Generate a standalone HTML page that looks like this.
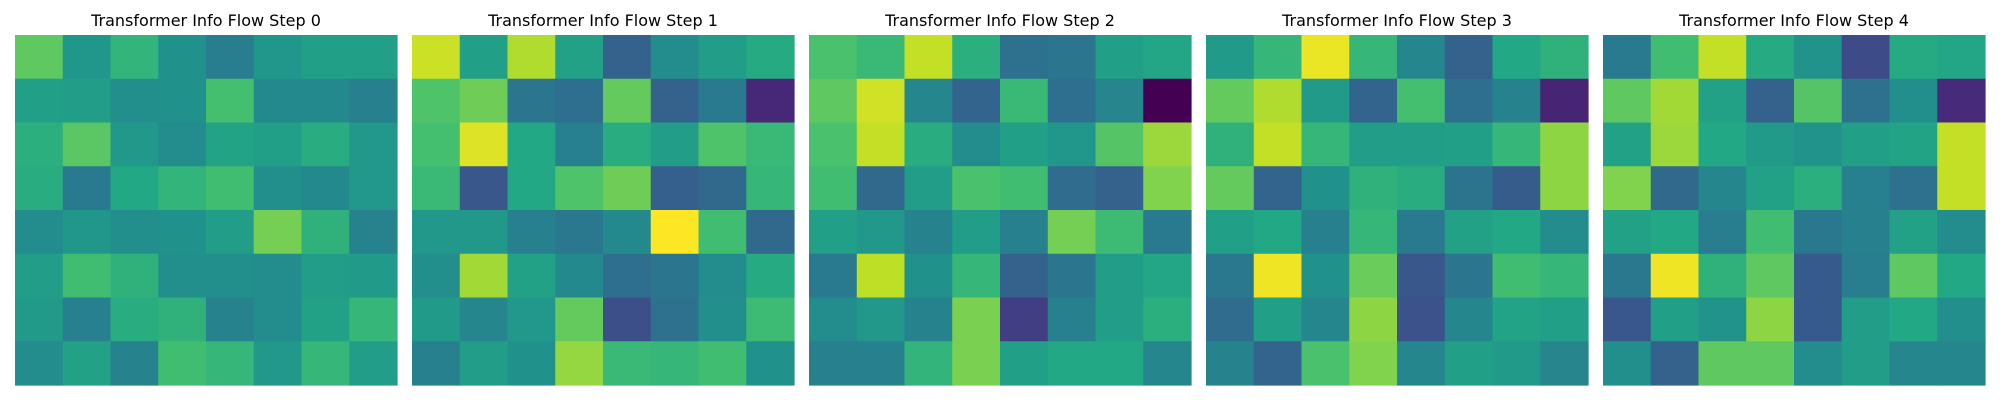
<!DOCTYPE html>
<html><head><meta charset="utf-8"><style>
html,body{margin:0;padding:0;background:#fff;}
svg{display:block;}
</style></head><body>
<svg id="chart" width="2000" height="400" xmlns="http://www.w3.org/2000/svg"></svg>
<script>
const stepTitles = ["Transformer Info Flow Step 0","Transformer Info Flow Step 1","Transformer Info Flow Step 2","Transformer Info Flow Step 3","Transformer Info Flow Step 4"];
const step0 = [
[.75,.52,.65,.50,.42,.52,.56,.56],
[.56,.55,.49,.50,.70,.47,.47,.43],
[.63,.74,.53,.48,.58,.56,.62,.53],
[.62,.41,.60,.65,.69,.49,.47,.53],
[.48,.52,.49,.50,.55,.79,.64,.44],
[.55,.69,.64,.49,.49,.48,.55,.54],
[.54,.43,.62,.64,.44,.48,.57,.66],
[.48,.57,.44,.69,.66,.53,.66,.55]];
const step1 = [
[.92,.56,.88,.57,.31,.48,.55,.61],
[.72,.78,.39,.36,.76,.31,.41,.11],
[.70,.95,.60,.43,.62,.55,.72,.67],
[.67,.27,.60,.72,.78,.30,.34,.66],
[.53,.53,.43,.40,.47,1.0,.69,.34],
[.49,.86,.57,.47,.36,.39,.48,.61],
[.54,.46,.53,.76,.24,.37,.49,.68],
[.43,.55,.50,.84,.67,.66,.69,.50]];
const step2 = [
[.71,.67,.91,.63,.37,.39,.56,.59],
[.75,.93,.46,.32,.67,.36,.45,0.0],
[.71,.91,.62,.48,.56,.52,.73,.85],
[.69,.34,.55,.71,.69,.35,.31,.81],
[.56,.53,.44,.55,.43,.79,.68,.41],
[.41,.90,.50,.66,.31,.39,.55,.59],
[.48,.53,.44,.80,.18,.43,.55,.63],
[.43,.43,.65,.80,.56,.60,.60,.46]];
const step3 = [
[.54,.66,.97,.66,.46,.31,.60,.64],
[.76,.88,.54,.32,.70,.36,.44,.10],
[.64,.91,.66,.55,.55,.56,.66,.83],
[.76,.32,.50,.64,.62,.38,.29,.83],
[.56,.60,.43,.66,.41,.57,.60,.48],
[.40,.98,.50,.77,.27,.39,.69,.66],
[.35,.56,.46,.83,.25,.46,.58,.56],
[.44,.32,.71,.81,.46,.56,.54,.45]];
const step4 = [
[.41,.69,.91,.61,.51,.23,.61,.59],
[.75,.86,.57,.31,.73,.37,.49,.12],
[.57,.85,.60,.54,.51,.56,.58,.91],
[.81,.34,.46,.57,.63,.43,.37,.91],
[.57,.60,.42,.69,.40,.43,.57,.48],
[.40,.98,.64,.75,.28,.42,.75,.60],
[.27,.56,.51,.83,.28,.55,.60,.49],
[.49,.31,.75,.75,.48,.55,.46,.46]];
const steps = [step0, step1, step2, step3, step4];

const vir = ["#440154","#482475","#414487","#355f8d","#2a788e","#21918c","#22a884","#44bf70","#7ad151","#bddf26","#fde725"];
function hex(h){return [1,3,5].map(i=>parseInt(h.substr(i,2),16));}
function color(v){
  v=Math.max(0,Math.min(1,v));
  const t=v*10, i=Math.min(9,Math.floor(t)), f=t-i;
  const a=hex(vir[i]), b=hex(vir[i+1]);
  return "rgb("+a.map((c,k)=>Math.round(c+(b[k]-c)*f)).join(",")+")";
}
const svg=document.getElementById('chart');
const NS="http://www.w3.org/2000/svg";
const panelX0=15, panelStep=397, panelW=382, panelTop=35, panelH=350;
steps.forEach((grid,p)=>{
  const g=document.createElementNS(NS,'g');
  
  
  const x0=panelX0+p*panelStep;
  const rows=grid.length, cols=grid[0].length;
  const cw=panelW/cols, ch=panelH/rows;
  grid.forEach((row,r)=>row.forEach((v,c)=>{
    const rect=document.createElementNS(NS,'rect');
    rect.setAttribute('x',x0+c*cw);
    rect.setAttribute('y',panelTop+r*ch);
    rect.setAttribute('width',cw+0.6);
    rect.setAttribute('height',ch+0.6);
    rect.setAttribute('fill',color(v));
    
    
    g.appendChild(rect);
  }));
  const t=document.createElementNS(NS,'text');
  t.setAttribute('x',x0+panelW/2);
  t.setAttribute('y',26);
  t.setAttribute('text-anchor','middle');
  t.setAttribute('font-family','"DejaVu Sans","Liberation Sans",sans-serif');
  t.setAttribute('font-size','16');
  t.setAttribute('fill','#000');
  
  
  t.textContent=stepTitles[p];
  g.appendChild(t);
  svg.appendChild(g);
});
</script>
</body></html>
